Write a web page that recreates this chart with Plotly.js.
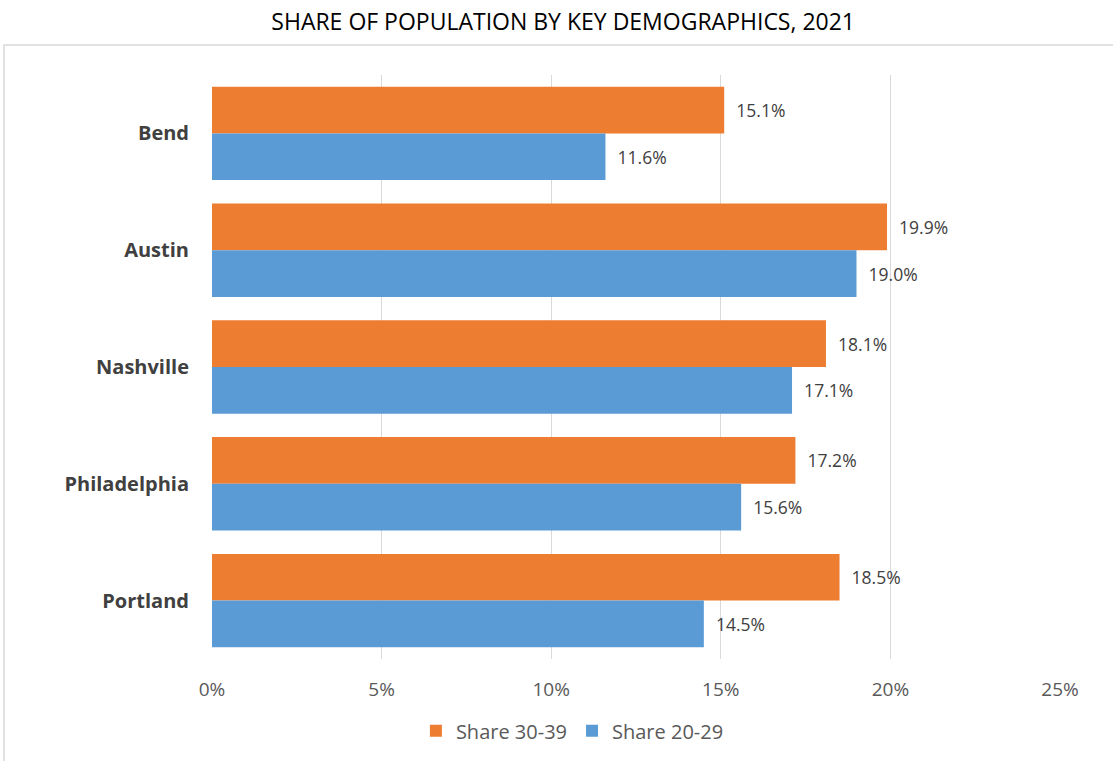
<!DOCTYPE html>
<html>
<head>
<meta charset="utf-8">
<script src="https://cdn.plot.ly/plotly-3.0.1.min.js"></script>
<style>
html,body{margin:0;padding:0;background:#fff;}
#chart{width:1113px;height:761px;}
</style>
</head>
<body>
<div id="chart"></div>
<script>
const cities = ["Bend", "Austin", "Nashville", "Philadelphia", "Portland"];
const share3039 = [15.1, 19.9, 18.1, 17.2, 18.5];
const share2029 = [11.6, 19.0, 17.1, 15.6, 14.5];
const tickVals = [0, 5, 10, 15, 20, 25];
const tickText = ["0%", "5%", "10%", "15%", "20%", "25%"];

const fontFam = '"Open Sans", "Noto Sans", sans-serif';

const traces = [
  {
    type: "bar", orientation: "h", name: "Share 30-39",
    y: cities, x: share3039,
    marker: {color: "#ED7D31"},
    text: share3039.map(v => "  " + v.toFixed(1) + "%"),
    textposition: "outside", cliponaxis: false,
    textfont: {size: 17.5, color: "#404040", family: fontFam},
    hoverinfo: "x+y"
  },
  {
    type: "bar", orientation: "h", name: "Share 20-29",
    y: cities, x: share2029,
    marker: {color: "#5B9BD5"},
    text: share2029.map(v => "  " + v.toFixed(1) + "%"),
    textposition: "outside", cliponaxis: false,
    textfont: {size: 17.5, color: "#404040", family: fontFam},
    hoverinfo: "x+y"
  }
];

const layout = {
  width: 1113, height: 761,
  margin: {l: 212, r: 53, t: 75, b: 101},
  paper_bgcolor: "#fff", plot_bgcolor: "#fff",
  font: {family: fontFam, color: "#595959"},
  barmode: "group", bargap: 0.2, bargroupgap: 0,
  title: {
    text: "SHARE OF POPULATION BY KEY DEMOGRAPHICS, 2021",
    font: {size: 23, color: "#000", family: fontFam},
    xref: "container", x: 0.506, xanchor: "center",
    yref: "container", y: 0.971, yanchor: "middle"
  },
  xaxis: {
    range: [0, 25], tickvals: tickVals, ticktext: tickText,
    showgrid: true, gridcolor: "#d9d9d9", gridwidth: 1,
    zeroline: false, showline: false,
    tickfont: {size: 19, color: "#595959"},
    ticklabelstandoff: 17, fixedrange: true
  },
  yaxis: {
    autorange: "reversed", showgrid: false, zeroline: false, showline: false,
    tickfont: {size: 20, color: "#404040", family: fontFam, weight: "bold"},
    ticklabelstandoff: 22, fixedrange: true
  },
  showlegend: true,
  legend: {
    orientation: "h", x: 0.425, xanchor: "center", y: -0.121, yanchor: "middle",
    font: {size: 20, color: "#595959"}, traceorder: "normal",
    itemwidth: 30
  },
  shapes: [
    {type: "rect", xref: "paper", yref: "paper",
     x0: (4 - 212) / 848, x1: (1120 - 212) / 848,
     y0: (660 - 770) / 585, y1: (660 - 45) / 585,
     line: {color: "#d9d9d9", width: 1.5}, fillcolor: "rgba(0,0,0,0)", layer: "below"}
  ]
};

Plotly.newPlot("chart", traces, layout, {displayModeBar: false, staticPlot: true});
</script>
</body>
</html>
